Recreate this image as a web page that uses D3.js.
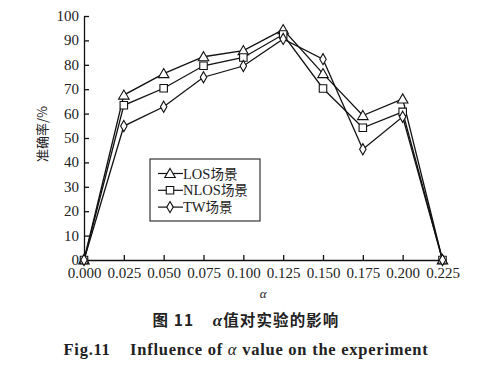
<!DOCTYPE html>
<html>
<head>
<meta charset="utf-8">
<script src="https://cdn.jsdelivr.net/npm/d3@7"></script>
<style>
  body { margin: 0; background: #fff; }
  text { font-family: "Liberation Serif", "Times New Roman", serif; fill: #222; }
</style>
</head>
<body>
<div id="chart"></div>
<script>
const w = 478;
const h = 375;

// data
const alphas = [0, 0.025, 0.05, 0.075, 0.1, 0.125, 0.15, 0.175, 0.2, 0.225];
const losVals = [0, 67.6, 76.4, 83.3, 85.8, 94.4, 76.4, 59.2, 66.0, 0];
const nlosVals = [0, 63.4, 70.4, 79.6, 83.0, 92.4, 70.3, 54.2, 60.7, 0];
const twVals = [0, 54.9, 62.8, 74.9, 79.5, 90.6, 82.3, 45.4, 58.7, 0];
const seriesNames = ["LOS场景", "NLOS场景", "TW场景"];
const markerTypes = ["triangle", "square", "diamond"];
const yTicks = [0, 10, 20, 30, 40, 50, 60, 70, 80, 90, 100];

const margin = { left: 84, right: 36, top: 16, bottom: 115 };

const xScale = d3.scaleLinear()
    .domain([0, 0.225])
    .range([margin.left, 442.5]);

const yScale = d3.scaleLinear()
    .domain([0, 100])
    .range([260, margin.top]);

const svg = d3.select("#chart")
    .append("svg")
    .attr("width", w)
    .attr("height", h);

// Axes (ticks point inward)
const xAxis = d3.axisBottom(xScale)
    .tickValues(alphas)
    .tickFormat(d3.format(".3f"))
    .tickSizeInner(-5)
    .tickSizeOuter(0)
    .tickPadding(7);

const yAxis = d3.axisLeft(yScale)
    .tickValues(yTicks)
    .tickSizeInner(-5)
    .tickSizeOuter(0)
    .tickPadding(5);

const gx = svg.append("g")
    .attr("transform", `translate(0,${yScale(0)})`)
    .call(xAxis);

const gy = svg.append("g")
    .attr("transform", `translate(${margin.left},0)`)
    .call(yAxis);

[gx, gy].forEach(g => {
    g.selectAll("path, line").attr("stroke", "#111").attr("stroke-width", 1.3);
    g.selectAll("text").style("font-size", "15px").attr("fill", "#222");
});
gy.selectAll("text").attr("dy", "0.3em");

// axis titles
svg.append("text")
    .attr("x", xScale(0.1125))
    .attr("y", 298)
    .attr("text-anchor", "middle")
    .style("font-size", "13px")
    .style("font-style", "italic")
    .text("α");

svg.append("text")
    .attr("transform", `translate(47,${yScale(50) - 4}) rotate(-90)`)
    .attr("text-anchor", "middle")
    .style("font-size", "13px")
    .style("font-family", "'Noto Sans CJK SC', sans-serif")
    .text("准确率/%");

// markers
const symbolFor = {
    triangle: d3.symbol().type(d3.symbolTriangle).size(48),
    square: d3.symbol().type(d3.symbolSquare).size(56),
    diamond: d3.symbol().type(d3.symbolDiamond).size(36)
};

const allSeries = [losVals, nlosVals, twVals];

const lineFun = d3.line()
    .x((d, i) => xScale(alphas[i]))
    .y(d => yScale(d));

allSeries.forEach(vals => {
    svg.append("path")
        .datum(vals)
        .attr("fill", "none")
        .attr("stroke", "#111")
        .attr("stroke-width", 1.3)
        .attr("d", lineFun);
});

allSeries.forEach((vals, k) => {
    svg.append("g")
        .selectAll("path")
        .data(vals)
        .join("path")
        .attr("transform", (d, i) => `translate(${xScale(alphas[i])},${yScale(d) + (markerTypes[k] === "triangle" ? 1 : 0)})`)
        .attr("d", symbolFor[markerTypes[k]])
        .attr("fill", "#fff")
        .attr("stroke", "#111")
        .attr("stroke-width", 1.1);
});

// legend
const legend = svg.append("g");
legend.append("rect")
    .attr("x", 150)
    .attr("y", 159)
    .attr("width", 110)
    .attr("height", 62)
    .attr("fill", "#fff")
    .attr("stroke", "#222")
    .attr("stroke-width", 1.1);

seriesNames.forEach((name, k) => {
    const ly = 173.5 + k * 16.8;
    legend.append("line")
        .attr("x1", 158).attr("x2", 183)
        .attr("y1", ly).attr("y2", ly)
        .attr("stroke", "#111").attr("stroke-width", 1.2);
    legend.append("path")
        .attr("transform", `translate(170,${ly + (markerTypes[k] === "triangle" ? 1 : 0)})`)
        .attr("d", symbolFor[markerTypes[k]])
        .attr("fill", "#fff")
        .attr("stroke", "#111")
        .attr("stroke-width", 1.1);
    legend.append("text")
        .attr("x", 183)
        .attr("y", ly + 5)
        .style("font-size", "14.5px")
        .text(name.replace("场景", ""))
        .append("tspan")
        .style("font-family", "'Noto Sans CJK SC', sans-serif")
        .style("font-size", "13.5px")
        .text("场景");
});

// captions
svg.append("text")
    .attr("x", 246)
    .attr("y", 326)
    .attr("text-anchor", "middle")
    .style("font-size", "15.5px")
    .style("font-weight", "bold")
    .style("font-family", "'Noto Sans CJK SC', sans-serif")
    .style("letter-spacing", "1.1px")
    .html("图 11\u00a0\u00a0\u00a0 <tspan style='font-family:Liberation Serif;font-style:italic;font-size:17px'>α</tspan>值对实验的影响");

svg.append("text")
    .attr("x", 246)
    .attr("y", 355)
    .attr("text-anchor", "middle")
    .style("font-size", "16.5px")
    .style("font-weight", "bold")
    .style("letter-spacing", "0.75px")
    .html("Fig.11\u00a0\u00a0\u00a0 Influence of <tspan style='font-style:italic;font-weight:normal'>α</tspan> value on the experiment");
</script>
</body>
</html>
